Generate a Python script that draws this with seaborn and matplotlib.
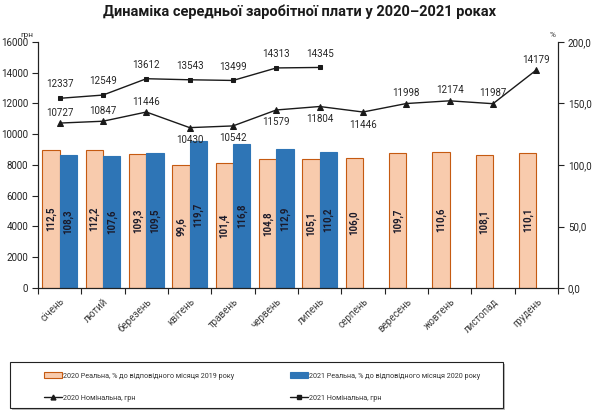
import numpy as np
import pandas as pd
import matplotlib
matplotlib.use("Agg")
import matplotlib.pyplot as plt
import matplotlib.patches as mpatches
from matplotlib.lines import Line2D
import seaborn as sns

months = ["січень", "лютий", "березень", "квітень", "травень", "червень",
          "липень", "серпень", "вересень", "жовтень", "листопад", "грудень"]
real_2020 = [112.5, 112.2, 109.3, 99.6, 101.4, 104.8, 105.1, 106.0, 109.7, 110.6, 108.1, 110.1]
real_2021 = [108.3, 107.6, 109.5, 119.7, 116.8, 112.9, 110.2]
nominal_2020 = [10727, 10847, 11446, 10430, 10542, 11579, 11804, 11446, 11998, 12174, 11987, 14179]
nominal_2021 = [12337, 12549, 13612, 13543, 13499, 14313, 14345]
label_below_2020 = [False, False, False, True, True, True, True, True, False, False, False, False]

ser_2020 = "2020 Реальна, % до відповідного місяця 2019 року"
ser_2021 = "2021 Реальна, % до відповідного місяця 2020 року"
lin_2020 = "2020 Номінальна, грн"
lin_2021 = "2021 Номінальна, грн"

sns.set_style("white")
plt.rcParams['font.family'] = ['Roboto', 'DejaVu Sans']

c2020 = "#F8CBAD"
e2020 = "#C55A11"
c2021 = "#2E75B6"

df = pd.DataFrame({
    "month": months * 2,
    "value": real_2020 + real_2021 + [np.nan] * (12 - len(real_2021)),
    "series": [ser_2020] * 12 + [ser_2021] * 12,
})

fig = plt.figure(figsize=(6, 4.15), dpi=100)
ax = fig.add_axes([38/600, 1-288/415, (558-38)/600, (288-42)/415])

sns.barplot(data=df, x="month", y="value", hue="series", order=months,
            hue_order=[ser_2020, ser_2021], palette=[c2020, c2021],
            width=0.8, ax=ax, legend=False, errorbar=None, saturation=1)
for bar in ax.containers[0]:
    bar.set_edgecolor(e2020)
    bar.set_linewidth(0.8)
for bar in ax.containers[1]:
    bar.set_edgecolor(c2021)
    bar.set_linewidth(0.8)

# value labels inside bars
for cont, vals in zip(ax.containers, [real_2020, real_2021]):
    for bar, v in zip(cont, vals):
        h = bar.get_height()
        if np.isnan(h):
            continue
        ax.text(bar.get_x() + bar.get_width()/2, h/2, f"{v:.1f}".replace(".", ","),
                rotation=90, ha="center", va="center", fontsize=7,
                fontweight="bold", color="#1a1a2a")

ax.set_ylim(0, 200)
ax.set_xlim(-0.5, 11.5)

ax2 = ax.twinx()
sns.pointplot(x=months, y=nominal_2020, order=months, color="#1a1a1a",
              markers="^", markersize=4, linewidth=1, errorbar=None, ax=ax2)
sns.pointplot(x=months[:len(nominal_2021)], y=nominal_2021, order=months,
              color="#1a1a1a", markers="s", markersize=3.5, linewidth=1,
              errorbar=None, ax=ax2)
ax2.set_ylim(0, 16000)
ax2.set_xlim(-0.5, 11.5)

for i, v in enumerate(nominal_2020):
    off = -9 if label_below_2020[i] else 7.5
    ax2.annotate(str(v), (i, v), xytext=(0, off), textcoords="offset points",
                 ha="center", va="center", fontsize=7, color="#262626")
for i, v in enumerate(nominal_2021):
    ax2.annotate(str(v), (i, v), xytext=(0, 10), textcoords="offset points",
                 ha="center", va="center", fontsize=7, color="#262626")

# axes styling
ax.yaxis.tick_right()
ax2.yaxis.tick_left()
ax2.yaxis.set_label_position("left")
ax.set_yticks(np.arange(0, 201, 50))
ax.set_yticklabels([f"{t:.1f}".replace(".", ",") for t in np.arange(0, 201, 50)])
ax2.set_yticks(np.arange(0, 16001, 2000))
ax.set_xlabel("")
ax.set_ylabel("")
ax2.set_ylabel("")
for a in (ax, ax2):
    a.spines["top"].set_visible(False)
    for s in ("left", "right", "bottom"):
        a.spines[s].set_color("#222222")
        a.spines[s].set_linewidth(0.8)
ax.tick_params(axis="y", which="major", right=True, left=False, direction="out",
               length=4, width=0.8, labelsize=7, colors="#222222", pad=3)
ax2.tick_params(axis="y", which="major", left=True, right=False, direction="out",
                length=4, width=0.8, labelsize=7, colors="#222222", pad=3)
ax.set_xticks(range(12))
ax.set_xticklabels(months, rotation=45, ha="right", rotation_mode="anchor",
                   fontsize=7, color="#404040")
ax.tick_params(axis="x", which="major", length=0, pad=6)
ax.set_xticks(np.arange(-0.5, 12, 1), minor=True)
ax.tick_params(axis="x", which="minor", bottom=True, direction="out", length=4,
               width=0.8, color="#222222")

fig.suptitle("Динаміка середньої заробітної плати у 2020–2021 роках",
             x=0.5, y=1-12/415, va="center", fontsize=10.5, fontweight="bold",
             color="#1a1a1a")
fig.text(27/600, 1-35/415, "грн", fontsize=6, ha="center", va="center", color="#333333")
fig.text(553/600, 1-35/415, "%", fontsize=6, ha="center", va="center", color="#333333")

# legend frame
fig.patches.append(mpatches.Rectangle((12/600, 5/415), 493/600, 46/415,
                                      transform=fig.transFigure, facecolor="#bbbbbb",
                                      edgecolor="none", zorder=0))
fig.patches.append(mpatches.Rectangle((10/600, 7/415), 493/600, 46/415,
                                      transform=fig.transFigure, facecolor="white",
                                      edgecolor="#222222", linewidth=0.8, zorder=1))
h_bar20 = mpatches.Patch(facecolor=c2020, edgecolor=e2020, linewidth=0.8)
h_lin20 = Line2D([], [], color="#1a1a1a", marker="^", markersize=3.5, linewidth=1)
h_bar21 = mpatches.Patch(facecolor=c2021, edgecolor=c2021, linewidth=0.8)
h_lin21 = Line2D([], [], color="#1a1a1a", marker="s", markersize=3, linewidth=1)

leg_kw = dict(ncol=1, loc="center left", frameon=False,
              prop={"size": 5.2, "family": ["Roboto", "DejaVu Sans"]},
              handlelength=2.5, handleheight=0.9, handletextpad=0.1, labelspacing=2.0,
              borderaxespad=0, borderpad=0)
leg1 = fig.legend([h_bar20, h_lin20], [ser_2020, lin_2020],
                  bbox_to_anchor=(44/600, 1-387/415), **leg_kw)
leg2 = fig.legend([h_bar21, h_lin21], [ser_2021, lin_2021],
                  bbox_to_anchor=(290/600, 1-387/415), **leg_kw)
for lg in (leg1, leg2):
    for t in lg.get_texts():
        t.set_color("#333333")

fig.savefig("out.png", dpi=100)
